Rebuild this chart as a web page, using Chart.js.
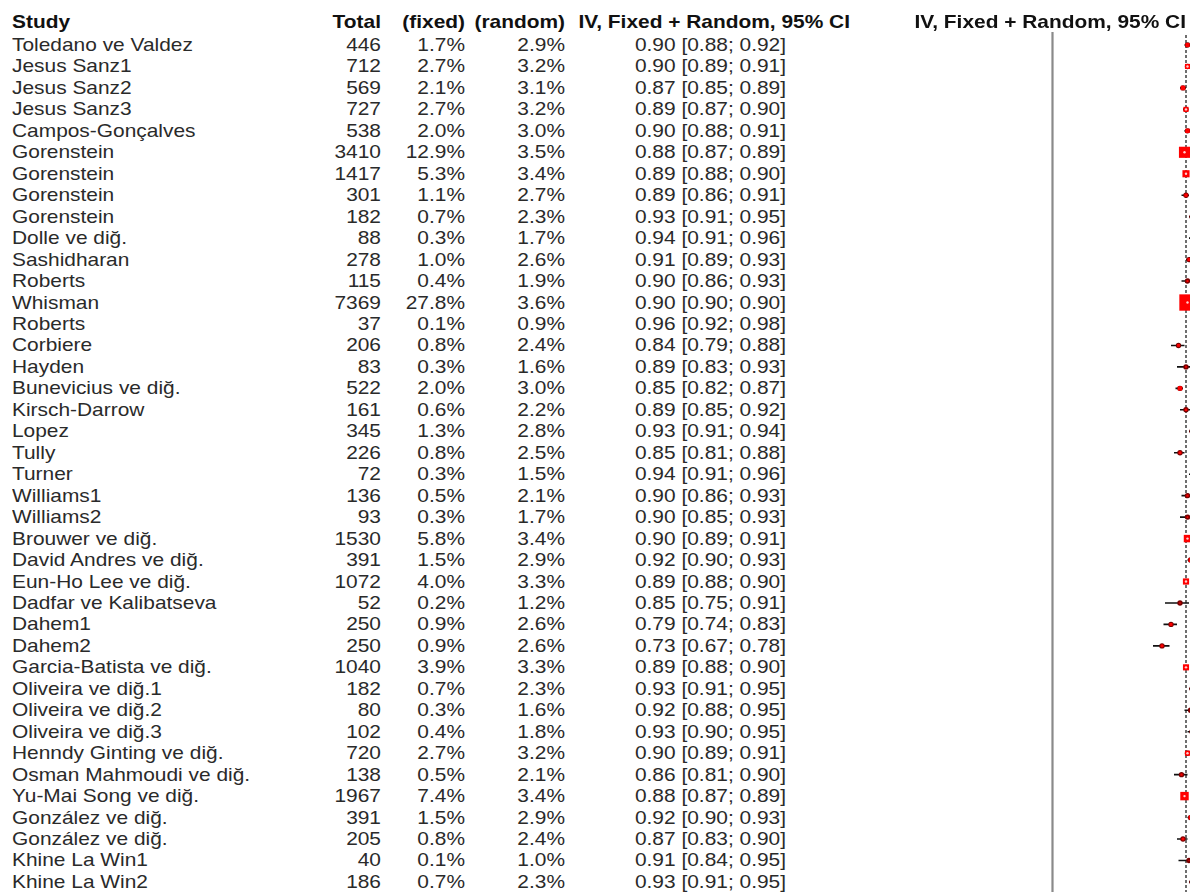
<!DOCTYPE html>
<html><head><meta charset="utf-8">
<script src="https://cdn.jsdelivr.net/npm/chart.js@4.4.1/dist/chart.umd.min.js"></script>
<style>
html,body{margin:0;padding:0;background:#fff;width:1190px;height:892px;overflow:hidden;}
#wrap{position:relative;width:1190px;height:892px;}
.t{position:absolute;white-space:nowrap;font-family:"Liberation Sans",Arial,sans-serif;font-size:19px;line-height:20px;color:#2a2a2a;}
.h{font-weight:bold;color:#111;}
#plot{position:absolute;left:1040px;top:0;}
</style></head><body><div id="wrap"><canvas id="plot" width="150" height="892"></canvas></div>
<script>
const studies = ["Toledano ve Valdez","Jesus Sanz1","Jesus Sanz2","Jesus Sanz3","Campos-Gonçalves","Gorenstein","Gorenstein","Gorenstein","Gorenstein","Dolle ve diğ.","Sashidharan","Roberts","Whisman","Roberts","Corbiere","Hayden","Bunevicius ve diğ.","Kirsch-Darrow","Lopez","Tully","Turner","Williams1","Williams2","Brouwer ve diğ.","David Andres ve diğ.","Eun-Ho Lee ve diğ.","Dadfar ve Kalibatseva","Dahem1","Dahem2","Garcia-Batista ve diğ.","Oliveira ve diğ.1","Oliveira ve diğ.2","Oliveira ve diğ.3","Henndy Ginting ve diğ.","Osman Mahmoudi ve diğ.","Yu-Mai Song ve diğ.","González ve diğ.","González ve diğ.","Khine La Win1","Khine La Win2"];
const totals = [446,712,569,727,538,3410,1417,301,182,88,278,115,7369,37,206,83,522,161,345,226,72,136,93,1530,391,1072,52,250,250,1040,182,80,102,720,138,1967,391,205,40,186];
const weightFixed = [1.7,2.7,2.1,2.7,2.0,12.9,5.3,1.1,0.7,0.3,1.0,0.4,27.8,0.1,0.8,0.3,2.0,0.6,1.3,0.8,0.3,0.5,0.3,5.8,1.5,4.0,0.2,0.9,0.9,3.9,0.7,0.3,0.4,2.7,0.5,7.4,1.5,0.8,0.1,0.7];
const weightRandom = [2.9,3.2,3.1,3.2,3.0,3.5,3.4,2.7,2.3,1.7,2.6,1.9,3.6,0.9,2.4,1.6,3.0,2.2,2.8,2.5,1.5,2.1,1.7,3.4,2.9,3.3,1.2,2.6,2.6,3.3,2.3,1.6,1.8,3.2,2.1,3.4,2.9,2.4,1.0,2.3];
const estimates = [0.90,0.90,0.87,0.89,0.90,0.88,0.89,0.89,0.93,0.94,0.91,0.90,0.90,0.96,0.84,0.89,0.85,0.89,0.93,0.85,0.94,0.90,0.90,0.90,0.92,0.89,0.85,0.79,0.73,0.89,0.93,0.92,0.93,0.90,0.86,0.88,0.92,0.87,0.91,0.93];
const ciLower = [0.88,0.89,0.85,0.87,0.88,0.87,0.88,0.86,0.91,0.91,0.89,0.86,0.90,0.92,0.79,0.83,0.82,0.85,0.91,0.81,0.91,0.86,0.85,0.89,0.90,0.88,0.75,0.74,0.67,0.88,0.91,0.88,0.90,0.89,0.81,0.87,0.90,0.83,0.84,0.91];
const ciUpper = [0.92,0.91,0.89,0.90,0.91,0.89,0.90,0.91,0.95,0.96,0.93,0.93,0.90,0.98,0.88,0.93,0.87,0.92,0.94,0.88,0.96,0.93,0.93,0.91,0.93,0.90,0.91,0.83,0.78,0.90,0.95,0.95,0.95,0.91,0.90,0.89,0.93,0.90,0.95,0.95];
const headers = ["Study","Total","(fixed)","(random)","IV, Fixed + Random, 95% CI","IV, Fixed + Random, 95% CI"];
const pooledEstimate = 0.89;
const nullValue = 0;

// ---- layout (pixels) ----
const ROW0 = 45, ROWH = 21.46, HEAD_Y = 22, SX = 1.1;
const wrap = document.getElementById('wrap');
function put(text, x, y, align, bold) {
  const d = document.createElement('div');
  d.className = 't' + (bold ? ' h' : '');
  d.textContent = text;
  d.style.left = x + 'px';
  d.style.top = (y - 10) + 'px';
  if (align === 'right') { d.style.transformOrigin = 'right center'; d.style.transform = 'translateX(-100%) scaleX(' + SX + ')'; }
  else { d.style.transformOrigin = 'left center'; d.style.transform = 'scaleX(' + SX + ')'; }
  wrap.appendChild(d);
}
put(headers[0], 12, HEAD_Y, 'left', true);
put(headers[1], 381, HEAD_Y, 'right', true);
put(headers[2], 465, HEAD_Y, 'right', true);
put(headers[3], 565, HEAD_Y, 'right', true);
put(headers[4], 850, HEAD_Y, 'right', true);
put(headers[5], 1186, HEAD_Y, 'right', true);
studies.forEach((s, i) => {
  const y = ROW0 + ROWH * i;
  put(s, 12, y, 'left');
  put(String(totals[i]), 381, y, 'right');
  put(weightFixed[i].toFixed(1) + '%', 465, y, 'right');
  put(weightRandom[i].toFixed(1) + '%', 565, y, 'right');
  put(estimates[i].toFixed(2) + ' [' + ciLower[i].toFixed(2) + '; ' + ciUpper[i].toFixed(2) + ']', 786, y, 'right');
});

// ---- plot ----
const CANVAS_LEFT = 1040, X0PIX = 1052.5, XSCALE = 150;
const xMin = (CANVAS_LEFT - X0PIX) / XSCALE, xMax = (CANVAS_LEFT + 150 - X0PIX) / XSCALE;
const yMin = -ROW0 / ROWH, yMax = (892 - ROW0) / ROWH;
const n = studies.length;
const pts = estimates.map((e, i) => ({x: e, y: i}));
const seg = [];
estimates.forEach((e, i) => { seg.push({x: ciLower[i], y: i}, {x: ciUpper[i], y: i}, {x: null, y: null}); });
const boxSide = w => 3.1 * Math.sqrt(w);

new Chart(document.getElementById('plot'), {
  type: 'scatter',
  data: {
    datasets: [
      { data: pts, pointStyle: 'circle', borderWidth: 0, backgroundColor: '#ffd0d0',
        pointRadius: c => boxSide(weightFixed[c.dataIndex]) > 4.5 ? 1.2 : 0 },
      { data: pts, pointStyle: 'rect', backgroundColor: '#ff0000', borderWidth: 0,
        pointRadius: c => boxSide(weightFixed[c.dataIndex]) / Math.SQRT2 },
      { data: pts, pointStyle: 'circle', pointRadius: 2.7, backgroundColor: '#7a0000', borderWidth: 0 },
      { data: seg, showLine: true, spanGaps: false, pointRadius: 0, borderColor: '#111', borderWidth: 1.6 },
      { data: [{x: pooledEstimate, y: -0.47}, {x: pooledEstimate, y: n - 0.5}], showLine: true, pointRadius: 0,
        borderColor: '#222', borderWidth: 1.3, borderDash: [3, 2] },
      { data: [{x: nullValue, y: -0.6}, {x: nullValue, y: n}], showLine: true, pointRadius: 0,
        borderColor: '#8a8a8a', borderWidth: 2.2 }
    ]
  },
  options: {
    responsive: false, animation: false, devicePixelRatio: 1,
    layout: {padding: 0, autoPadding: false},
    plugins: {legend: {display: false}, tooltip: {enabled: false}},
    scales: {
      x: {type: 'linear', min: xMin, max: xMax, display: false},
      y: {type: 'linear', reverse: true, min: yMin, max: yMax, display: false}
    }
  }
});
</script></body></html>
